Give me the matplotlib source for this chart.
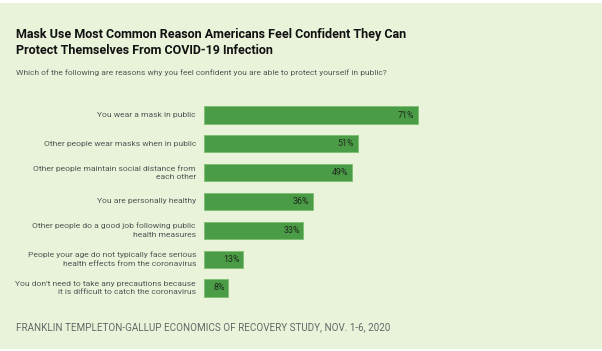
import matplotlib
matplotlib.use("Agg")
import matplotlib.pyplot as plt
from matplotlib.patches import Rectangle
from matplotlib.transforms import blended_transform_factory, offset_copy

labels = [
    "You wear a mask in public",
    "Other people wear masks when in public",
    "Other people maintain social distance from\neach other",
    "You are personally healthy",
    "Other people do a good job following public\nhealth measures",
    "People your age do not typically face serious\nhealth effects from the coronavirus",
    "You don't need to take any precautions because\nit is difficult to catch the coronavirus",
]
values = [71, 51, 49, 36, 33, 13, 8]

BG = "#e9f3da"
BAR = "#4b9c46"
FONT = "Roboto"

fig = plt.figure(figsize=(6.02, 3.51), dpi=100, facecolor="white")
fig.patches.append(Rectangle((0, 2 / 351), 1, 346 / 351, transform=fig.transFigure,
                             facecolor=BG, edgecolor="none", zorder=-10))

ax = fig.add_axes([204 / 602, 1 - 302.4 / 351, 301.5 / 602, 201.8 / 351])
ax.set_facecolor("none")
y = list(range(len(values)))
ax.barh(y, values, height=0.6, color=BAR, edgecolor="#7dbf6f", linewidth=0.6)
for yi, v in zip(y, values):
    ax.text(v - 1.2, yi, f"{v}%", ha="right", va="center", fontsize=6.4, color="#1e2a1a",
            family=FONT)
ax.set_xlim(0, 100)
ax.set_ylim(len(values) - 0.5, -0.5)
ax.set_xticks([])
ax.set_yticks([])
for s in ax.spines.values():
    s.set_visible(False)

# category labels, right-aligned just left of the bars
trans = offset_copy(blended_transform_factory(ax.transAxes, ax.transData),
                    fig=fig, x=-8 / 100 * 72, y=0, units="points")
for yi, lab in zip(y, labels):
    ax.text(0, yi, lab, transform=trans, ha="right", va="center", multialignment="right",
            fontsize=6.1, color="#555555", family=FONT, linespacing=1.55)

fig.text(16 / 602, 1 - 28 / 351, "Mask Use Most Common Reason Americans Feel Confident They Can\n"
         "Protect Themselves From COVID-19 Infection", ha="left", va="top",
         fontsize=9, fontweight="bold", color="#111111", family=FONT, linespacing=1.35)
fig.text(16 / 602, 1 - 73 / 351,
         "Which of the following are reasons why you feel confident you are able to protect yourself in public?",
         ha="left", va="center", fontsize=6, color="#555555", family=FONT)
fig.text(16 / 602, 1 - 327 / 351,
         "FRANKLIN TEMPLETON-GALLUP ECONOMICS OF RECOVERY STUDY, NOV. 1-6, 2020",
         ha="left", va="center", fontsize=7.1, color="#666666", family=FONT)

fig.savefig("out.png", dpi=100, facecolor=fig.get_facecolor())
